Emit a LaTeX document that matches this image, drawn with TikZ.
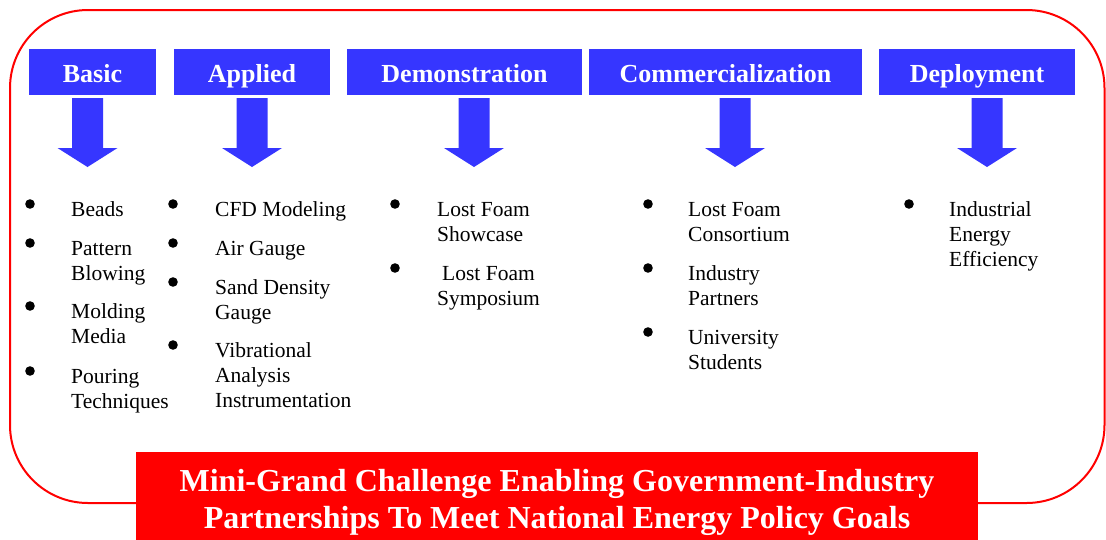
\documentclass[tikz,border=0pt]{standalone}
\usepackage{fontspec}
\setmainfont{Liberation Serif}
\definecolor{stageblue}{RGB}{54,54,255}
\definecolor{goalred}{RGB}{255,0,0}
% left-aligned stack of lines whose baseline is the first line's
\newcommand\stack[1]{\vtop{\halign{##\hfil\cr #1\crcr}}}
% broad downward block arrow centred at x = #1
\newcommand\stagearrow[1]{%
  \fill[stageblue] (#1-15.5,98) -- (#1+15.5,98) -- (#1+15.5,148) -- (#1+30,148)
    -- (#1,167) -- (#1-30,148) -- (#1-15.5,148) -- cycle;}
\begin{document}
\begin{tikzpicture}[x=1pt,y=-1pt,
  stage/.style={fill=stageblue, draw=none, text=white, inner sep=0pt,
    minimum height=46pt, text height=20pt, text depth=0pt,
    font=\fontsize{26}{30}\selectfont\bfseries},
  item/.style={anchor=base west, inner sep=0pt,
    font=\fontsize{21.5}{25}\selectfont},
  dot/.style={circle, fill=black, draw=none, inner sep=0pt, minimum size=9.6pt},
  goal/.style={fill=goalred, draw=none, text=white, align=center, inner sep=0pt,
    font=\fontsize{32}{37}\selectfont\bfseries}]
\useasboundingbox (0,0) rectangle (1106,539);

% outer frame
\draw[goalred, line width=2pt, rounded corners=78pt] (10,10) rectangle (1104.5,503);

% stage headers
\node[stage, minimum width=127pt] (basic)  at (92.5,72)  {Basic};
\node[stage, minimum width=156pt] (applied) at (252,72)  {Applied};
\node[stage, minimum width=235pt] (demo)   at (464.5,72) {Demonstration};
\node[stage, minimum width=273pt] (comm)   at (725.5,72) {Commercialization};
\node[stage, minimum width=196pt] (deploy) at (977,72)   {Deployment};

% block arrows under the headers
\stagearrow{87.5}
\stagearrow{252}
\stagearrow{474}
\stagearrow{735}
\stagearrow{987}

% Basic
\node[dot] (b1d) at (30,204) {};
\node[item] (b1) at (71,216) {Beads};
\node[dot] (b2d) at (30,243) {};
\node[item] (b2) at (71,255) {\stack{Pattern\cr Blowing}};
\node[dot] (b3d) at (30,306) {};
\node[item] (b3) at (71,318) {\stack{Molding\cr Media}};
\node[dot] (b4d) at (30,371) {};
\node[item] (b4) at (71,383) {\stack{Pouring\cr Techniques}};

% Applied
\node[dot] (a1d) at (173,204) {};
\node[item] (a1) at (215,216) {CFD Modeling};
\node[dot] (a2d) at (173,243) {};
\node[item] (a2) at (215,255) {Air Gauge};
\node[dot] (a3d) at (173,282) {};
\node[item] (a3) at (215,294) {\stack{Sand Density\cr Gauge}};
\node[dot] (a4d) at (173,345) {};
\node[item] (a4) at (215,357) {\stack{Vibrational\cr Analysis\cr Instrumentation}};

% Demonstration
\node[dot] (d1d) at (395,204) {};
\node[item] (d1) at (437,216) {\stack{Lost Foam\cr Showcase}};
\node[dot] (d2d) at (395,268) {};
\node[item] (d2) at (437,280) {\stack{\hskip5pt Lost Foam\cr Symposium}};

% Commercialization
\node[dot] (c1d) at (648,204) {};
\node[item] (c1) at (688,216) {\stack{Lost Foam\cr Consortium}};
\node[dot] (c2d) at (648,268) {};
\node[item] (c2) at (688,280) {\stack{Industry\cr Partners}};
\node[dot] (c3d) at (648,332) {};
\node[item] (c3) at (688,344) {\stack{University\cr Students}};

% Deployment
\node[dot] (e1d) at (909,204) {};
\node[item] (e1) at (949,216) {\stack{Industrial\cr Energy\cr Efficiency}};

% goal banner
\node[goal, minimum width=842pt, minimum height=100pt] (goal) at (557,502)
  {Mini-Grand Challenge Enabling Government-Industry\\
   Partnerships To Meet National Energy Policy Goals};
\end{tikzpicture}
\end{document}
